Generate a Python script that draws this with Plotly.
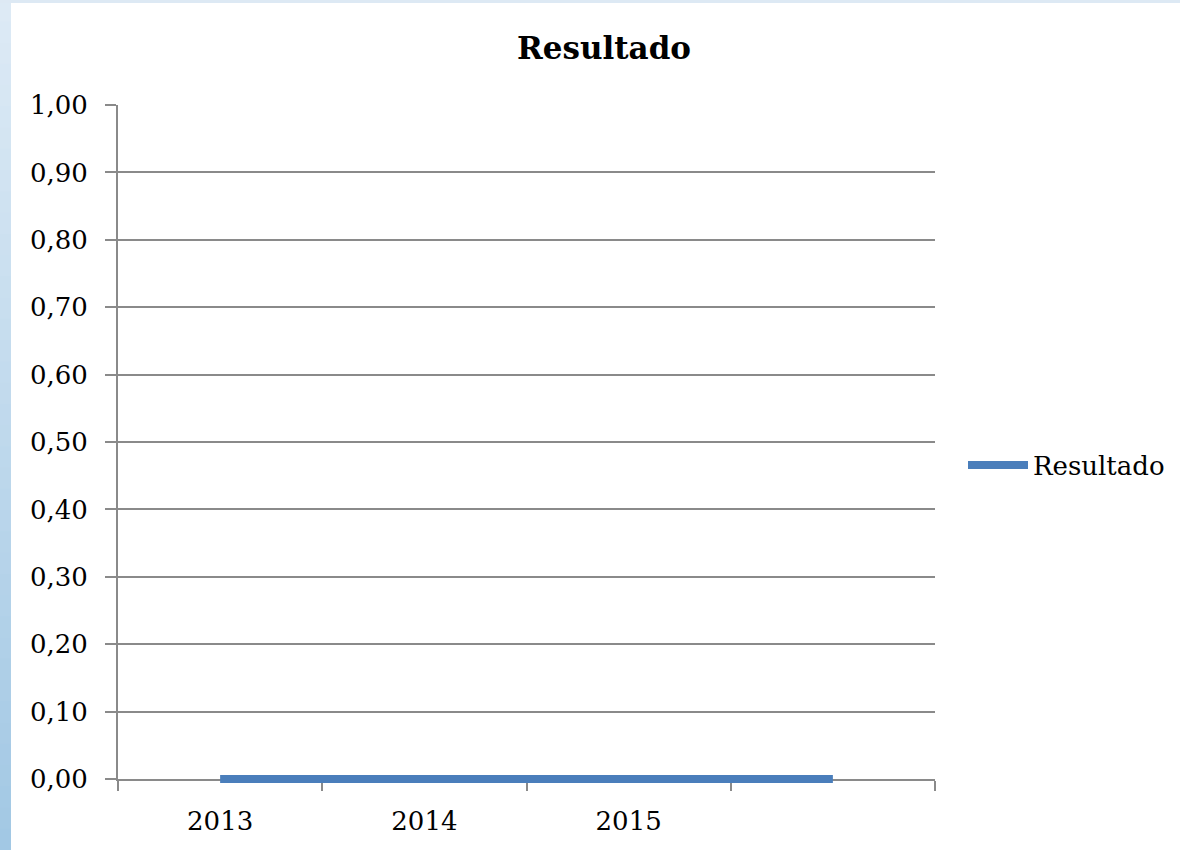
import plotly.graph_objects as go

# ---- data ----
categories = ["2013", "2014", "2015", " "]
resultado = [0, 0, 0, 0]
series_name = "Resultado"
title_text = "Resultado"

# ---- layout constants ----
W, H = 1180, 850
PAD = 12  # extra pixels below the zero line so the thick line is not clipped
L, R, T, B = 118, 245, 105, 71 - PAD
PW, PH = W - L - R, H - T - B
D0 = PAD / PH  # main y-axis domain start

def px(x):
    return (x - L) / PW

def py(y):
    return (H - B - y) / PH

FONT = "DejaVu Serif"
GRID = "#8a8a8a"

fig = go.Figure()
# invisible carrier trace so the main x/y axes are drawn
fig.add_trace(go.Scatter(
    x=categories, y=resultado, mode="lines", showlegend=False, hoverinfo="skip",
    xaxis="x", yaxis="y", line=dict(color="rgba(0,0,0,0)", width=0),
))
# visible series, on an overlay axis whose clip area extends below zero
fig.add_trace(go.Scatter(
    x=categories, y=resultado, mode="lines", name=series_name,
    xaxis="x", yaxis="y2",
    line=dict(color="#4a7ebb", width=8), cliponaxis=False,
))

shapes = []
# left gradient band
n = 40
c0 = (0xdd, 0xea, 0xf5)
c1 = (0xa2, 0xc8, 0xe4)
for i in range(n):
    t = i / (n - 1)
    col = tuple(round(c0[k] + (c1[k] - c0[k]) * t) for k in range(3))
    y0 = H * i / n
    y1 = H * (i + 1) / n + 1
    shapes.append(dict(type="rect", xref="paper", yref="paper", layer="below",
                       x0=px(0), x1=px(11), y0=py(y1), y1=py(y0),
                       fillcolor="rgb(%d,%d,%d)" % col, line=dict(width=0)))
# top band
shapes.append(dict(type="rect", xref="paper", yref="paper", layer="below",
                   x0=px(0), x1=px(W), y0=py(3), y1=py(0),
                   fillcolor="#dde9f4", line=dict(width=0)))

yr = [0, 1]
span_px = PH - PAD
fig.update_layout(
    width=W, height=H,
    margin=dict(l=L, r=R, t=T, b=B, autoexpand=False),
    paper_bgcolor="white", plot_bgcolor="rgba(0,0,0,0)",
    separators=",.",
    font=dict(family=FONT, size=26, color="black"),
    title=dict(text="<b>" + title_text + "</b>", x=604 / W, xanchor="center",
               y=1 - 48 / H, yanchor="middle", xref="container", yref="container",
               font=dict(family=FONT, size=31, color="black")),
    shapes=shapes,
    showlegend=True,
    legend=dict(x=px(963), xanchor="left", y=py(465), yanchor="middle",
                font=dict(family=FONT, size=26), itemwidth=60,
                bgcolor="rgba(0,0,0,0)"),
    xaxis=dict(type="category", categoryorder="array", categoryarray=categories,
               anchor="y",
               range=[-0.5, 3.5], tickson="boundaries", ticks="outside", ticklen=10,
               tickwidth=2, tickcolor=GRID, showline=True, linecolor=GRID, linewidth=2,
               showgrid=False, zeroline=False, layer="below traces",
               ticklabelstandoff=18, tickfont=dict(family=FONT, size=26)),
    yaxis=dict(domain=[D0, 1], range=yr, dtick=0.1, tick0=0, tickformat=".2f",
               ticks="outside",
               ticklen=11, tickwidth=2, tickcolor=GRID, showline=True, linecolor=GRID,
               linewidth=2, showgrid=True, gridcolor=GRID, gridwidth=2, zeroline=False,
               layer="below traces", ticklabelstandoff=12,
               tickfont=dict(family=FONT, size=26)),
    yaxis2=dict(anchor="x", domain=[0, 1],
                range=[yr[0] - (yr[1] - yr[0]) * PAD / span_px, yr[1]],
                visible=False, showgrid=False, zeroline=False),
)

fig.write_html("out.html", post_script="document.body.style.margin='0';",
               config={"displayModeBar": False})
